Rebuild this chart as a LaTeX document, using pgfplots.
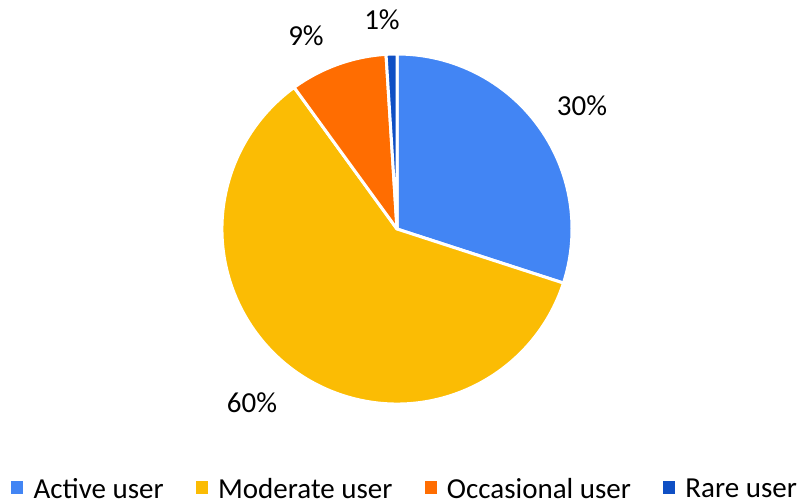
\documentclass[border=0pt]{standalone}
\usepackage{pgfplots}
\pgfplotsset{compat=1.18}
\usepackage{fontspec}
\setmainfont{Carlito}

\definecolor{cActive}{HTML}{4285F4}
\definecolor{cModerate}{HTML}{FBBC04}
\definecolor{cOccasional}{HTML}{FF6D01}
\definecolor{cRare}{HTML}{0F4FC4}

\begin{document}
\begin{tikzpicture}
\useasboundingbox (0,0) rectangle (798pt,501pt);
\begin{axis}[
	at={(0,0)}, anchor=south west,
	scale only axis, width=798pt, height=501pt,
	xmin=0, xmax=798, ymin=0, ymax=501,
	hide axis, clip=false,
	legend columns=4,
	legend style={draw=none, fill=none, at={(axis cs:11,12)}, anchor=west,
		inner sep=0pt, font=\fontsize{29}{31}\selectfont,
		nodes={inner sep=0pt},
		/tikz/every odd column/.append style={column sep=11pt},
		/tikz/every even column/.append style={column sep=32pt}},
	legend image code/.code={\fill[#1] (0pt,-4pt) rectangle (11pt,8pt);},
	]
% pie: share in percent / colour, clockwise from the top
\xdef\curangle{90}
\foreach \v/\col in {30/cActive, 60/cModerate, 9/cOccasional, 1/cRare}{
	\pgfmathsetmacro\endangle{\curangle-3.6*\v}
	\pgfmathsetmacro\sx{397+175*cos(\curangle)}
	\pgfmathsetmacro\sy{272+175*sin(\curangle)}
	\edef\temp{\noexpand\filldraw[fill=\col, draw=white, line width=3pt, line join=round]
		(axis cs:397,272) -- (axis cs:\sx,\sy)
		arc[start angle=\curangle, end angle=\endangle, radius=175pt] -- cycle;}
	\temp
	\xdef\curangle{\endangle}
}
\addlegendimage{cActive}\addlegendentry{Active user}
\addlegendimage{cModerate}\addlegendentry{Moderate user}
\addlegendimage{cOccasional}\addlegendentry{Occasional user}
\addlegendimage{cRare}\addlegendentry{Rare user}

\begin{scope}[font=\fontsize{29}{31}\selectfont]
\node at (axis cs:582,395) {30\%};
\node at (axis cs:252,98) {60\%};
\node at (axis cs:306,465) {9\%};
\node at (axis cs:382,481) {1\%};
\end{scope}
\end{axis}
\end{tikzpicture}
\end{document}
